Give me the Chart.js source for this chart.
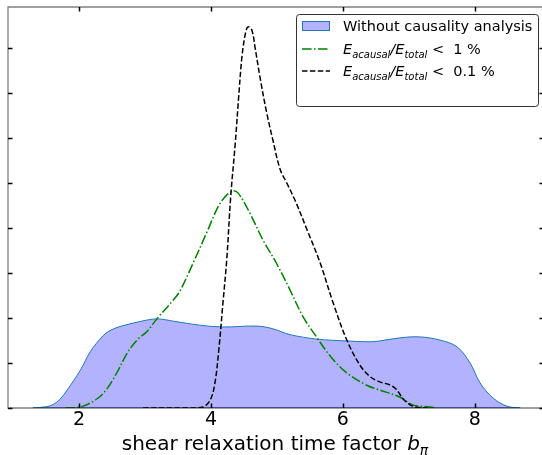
<!DOCTYPE html>
<html>
<head>
<meta charset="utf-8">
<script src="https://cdn.jsdelivr.net/npm/chart.js@4.4.0/dist/chart.umd.min.js"></script>
<style>
  html, body { margin: 0; padding: 0; background: #fff; }
  canvas { display: block; }
</style>
</head>
<body>
<canvas id="c" width="542" height="455"></canvas>
<script>
// values (density, arbitrary units)
const blueX = [1.30, 1.51, 1.61, 1.71, 1.82, 2.02, 2.17, 2.36, 2.47, 2.62, 2.92, 3.18, 3.43, 3.83, 4.18, 4.70, 4.94, 5.20, 5.61, 6.06, 6.41, 6.56, 6.87, 7.17, 7.47, 7.73, 7.93, 8.08, 8.28, 8.49, 8.69];
const blueY = [0, 0.03, 0.08, 0.19, 0.40, 0.84, 1.25, 1.60, 1.72, 1.81, 1.92, 1.98, 1.93, 1.84, 1.80, 1.82, 1.76, 1.63, 1.53, 1.49, 1.47, 1.49, 1.56, 1.58, 1.51, 1.36, 1.00, 0.56, 0.22, 0.04, 0];

const greenX = [1.79, 2.02, 2.27, 2.42, 2.58, 2.73, 2.88, 3.03, 3.18, 3.43, 3.53, 3.73, 3.94, 4.14, 4.32, 4.41, 4.59, 4.79, 5.00, 5.20, 5.40, 5.61, 5.81, 6.06, 6.37, 6.56, 6.87, 7.06, 7.32, 7.43];
const greenY = [0, 0.02, 0.2, 0.42, 0.8, 1.22, 1.51, 1.7, 1.98, 2.4, 2.6, 3.22, 3.91, 4.55, 4.82, 4.78, 4.33, 3.73, 3.2, 2.62, 2.02, 1.56, 1.15, 0.78, 0.50, 0.40, 0.24, 0.07, 0.02, 0];

const blackX = [2.97, 3.68, 3.88, 3.99, 4.06, 4.12, 4.18, 4.24, 4.30, 4.37, 4.42, 4.47, 4.52, 4.56, 4.62, 4.67, 4.75, 4.84, 4.94, 5.05, 5.15, 5.28, 5.46, 5.65, 5.85, 6.06, 6.26, 6.41, 6.56, 6.72, 6.82, 6.91, 7.06, 7.28];
const blackY = [0, 0, 0.02, 0.18, 0.55, 1.3, 2.3, 3.3, 4.7, 5.9, 6.9, 7.8, 8.3, 8.47, 8.4, 8.0, 7.3, 6.6, 5.95, 5.3, 5.0, 4.6, 3.95, 3.25, 2.35, 1.51, 0.95, 0.7, 0.58, 0.51, 0.4, 0.21, 0.04, 0];

const xTickValues = [2, 4, 6, 8];
const yTickValues = [0, 1, 2, 3, 4, 5, 6, 7, 8];
const xMin = 0.923, xMax = 9.02;
const yMin = 0, yMax = 8.91;

const seriesLabels = ['Without causality analysis', 'E_acausal/E_total < 1 %', 'E_acausal/E_total < 0.1 %'];
// legend text pieces: n = normal, i = math italic, s = italic subscript
const legendParts = [
  [['Without causality analysis', 'n']],
  [['E', 'i'], ['acausal', 's'], ['/E', 'i'], ['total', 's'], [' <  1 %', 'n']],
  [['E', 'i'], ['acausal', 's'], ['/E', 'i'], ['total', 's'], [' <  0.1 %', 'n']]
];
const xTitleParts = [['shear relaxation time factor ', 'n'], ['b', 'i'], ['π', 's']];

const pts = (xs, ys) => xs.map((v, i) => ({ x: v, y: ys[i] }));
const FONT = '"DejaVu Sans", sans-serif';

// draws runs of normal / italic / subscript text, returns width
function drawRuns(ctx, parts, x, y, size, subSize, measureOnly) {
  let cx = x;
  parts.forEach(([t, k]) => {
    if (k === 'n') ctx.font = size + 'px ' + FONT;
    else if (k === 'i') ctx.font = 'italic ' + size + 'px ' + FONT;
    else ctx.font = 'italic ' + subSize + 'px ' + FONT;
    const dy = k === 's' ? size * 0.26 : 0;
    if (!measureOnly) ctx.fillText(t, cx, y + dy);
    cx += ctx.measureText(t).width;
  });
  return cx - x;
}

const decor = {
  id: 'decor',
  afterDatasetsDraw(chart) {
    const { ctx, chartArea: a, scales: { x, y } } = chart;
    ctx.save();
    // spines (right one falls just outside the canvas)
    ctx.strokeStyle = 'rgba(0,0,0,0.5)';
    ctx.lineWidth = 1.3;
    ctx.beginPath();
    ctx.moveTo(a.right + 2, a.top); ctx.lineTo(a.left, a.top);
    ctx.lineTo(a.left, a.bottom); ctx.lineTo(a.right + 2, a.bottom);
    ctx.stroke();
    // inward ticks
    ctx.strokeStyle = '#000';
    ctx.lineWidth = 1.5;
    ctx.beginPath();
    xTickValues.forEach(v => {
      const px = Math.round(x.getPixelForValue(v)) + 0.5;
      ctx.moveTo(px, a.bottom); ctx.lineTo(px, a.bottom - 4.5);
      ctx.moveTo(px, a.top); ctx.lineTo(px, a.top + 4.5);
    });
    yTickValues.forEach(v => {
      const py = Math.round(y.getPixelForValue(v)) + 0.5;
      ctx.moveTo(a.left, py); ctx.lineTo(a.left + 4.5, py);
      ctx.moveTo(a.right + 1, py); ctx.lineTo(a.right - 2.5, py);
    });
    ctx.stroke();

    // x axis title
    ctx.fillStyle = '#000';
    ctx.textBaseline = 'alphabetic';
    ctx.textAlign = 'left';
    const tw = drawRuns(ctx, xTitleParts, 0, 0, 20, 14, true);
    drawRuns(ctx, xTitleParts, (a.left + a.right) / 2 - tw / 2, 450, 20, 14, false);

    // legend
    const lx = 296, ly = 14, lw = 242, lh = 92;
    ctx.fillStyle = 'rgba(255,255,255,0.9)';
    ctx.strokeStyle = '#333';
    ctx.lineWidth = 1;
    ctx.beginPath();
    ctx.roundRect(lx + 0.5, ly + 0.5, lw, lh, 3);
    ctx.fill();
    ctx.stroke();
    const ds = chart.data.datasets;
    const rows = [26, 49, 71];
    rows.forEach((cy, i) => {
      const d = ds[i];
      if (i === 0) {
        ctx.fillStyle = d.backgroundColor;
        ctx.fillRect(302, cy - 5, 28, 10);
        ctx.strokeStyle = d.borderColor;
        ctx.lineWidth = 1;
        ctx.strokeRect(302.5, cy - 4.5, 27, 9);
      } else {
        ctx.strokeStyle = d.borderColor;
        ctx.lineWidth = d.borderWidth;
        ctx.setLineDash(d.borderDash);
        ctx.beginPath();
        ctx.moveTo(302, cy); ctx.lineTo(330, cy);
        ctx.stroke();
        ctx.setLineDash([]);
      }
      ctx.fillStyle = '#000';
      drawRuns(ctx, legendParts[i], 343, cy + 5.2, 14.5, 10, false);
    });
    ctx.restore();
  }
};

new Chart(document.getElementById('c'), {
  type: 'line',
  data: {
    datasets: [
      {
        label: seriesLabels[0],
        data: pts(blueX, blueY),
        borderColor: '#1f77b4',
        backgroundColor: 'rgba(0,0,255,0.3)',
        borderWidth: 1,
        fill: 'origin',
        order: 3
      },
      {
        label: seriesLabels[1],
        data: pts(greenX, greenY),
        borderColor: '#008000',
        borderWidth: 1.5,
        borderDash: [9.6, 2.4, 1.5, 2.4],
        fill: false,
        order: 2
      },
      {
        label: seriesLabels[2],
        data: pts(blackX, blackY),
        borderColor: '#000',
        borderWidth: 1.5,
        borderDash: [5.5, 2.4],
        fill: false,
        order: 1
      },
      {
        // bottom edge of the filled area
        label: 'edge',
        data: pts([blueX[0], blueX[blueX.length - 1]], [0, 0]),
        borderColor: '#1f77b4',
        borderWidth: 1,
        fill: false,
        order: 4
      }
    ]
  },
  options: {
    responsive: false,
    animation: false,
    devicePixelRatio: 1,
    layout: { padding: { left: 8, top: 7, right: 0, bottom: 0 } },
    elements: {
      point: { radius: 0 },
      line: { tension: 0.35, capBezierPoints: true }
    },
    plugins: { legend: { display: false }, tooltip: { enabled: false } },
    scales: {
      x: {
        type: 'linear',
        min: xMin,
        max: xMax,
        afterBuildTicks: s => { s.ticks = xTickValues.map(v => ({ value: v })); },
        afterFit: s => { s.height = 47; },
        grid: { display: false, drawTicks: false },
        border: { display: false },
        ticks: {
          color: '#000',
          font: { family: 'DejaVu Sans', size: 19 },
          padding: 1,
          maxRotation: 0,
          autoSkip: false
        }
      },
      y: {
        type: 'linear',
        display: false,
        min: yMin,
        max: yMax
      }
    }
  },
  plugins: [decor]
});
</script>
</body>
</html>
